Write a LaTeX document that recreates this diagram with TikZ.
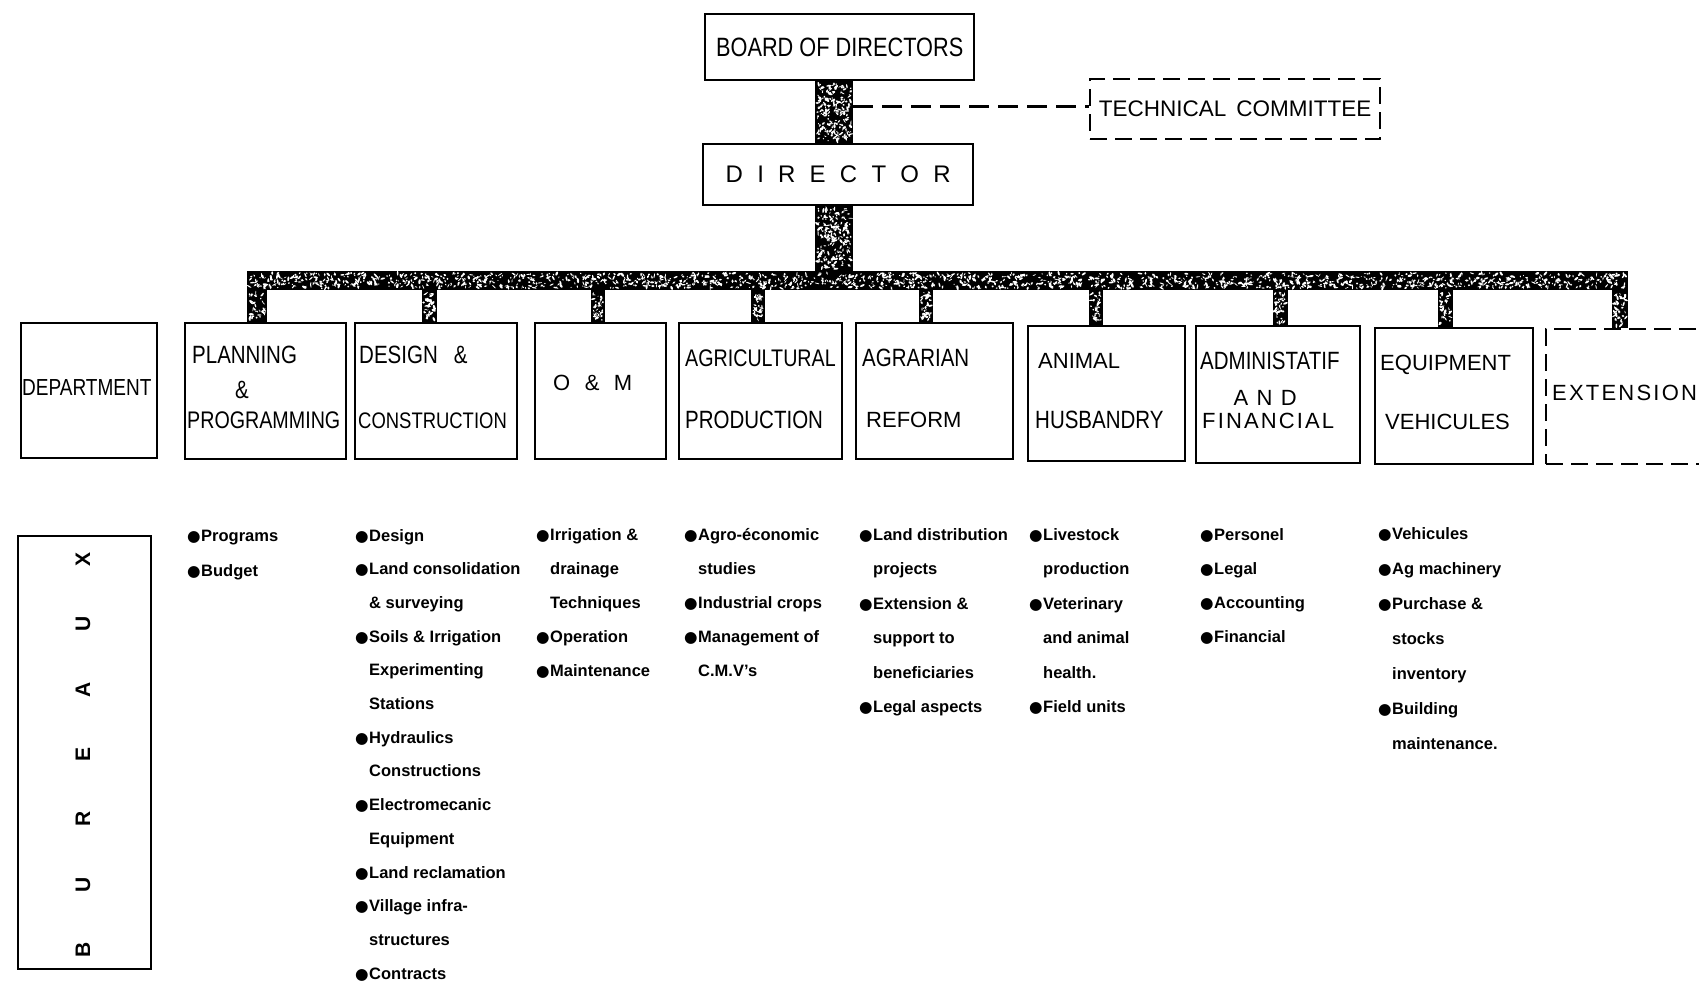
\documentclass[tikz,border=0pt]{standalone}
\usepackage{fontspec}
\setmainfont{Liberation Sans}
\newfontfamily\cond{Liberation Sans}[FakeStretch=0.82]
\newfontfamily\symf{DejaVu Sans}
\usetikzlibrary{calc}

% filled bullet for the bureau lists
\newcommand\bulchar{{\symf\fontsize{15.5}{15.5}\selectfont ●}}

% black bar with white speckles between two corners
\newcommand\barfill[3]{%
  \path #1; \pgfgetlastxy{\bxa}{\bya}%
  \path #2; \pgfgetlastxy{\bxb}{\byb}%
  \fill[black] #1 rectangle #2;
  \foreach \s in {1,...,#3}{%
    \pgfmathsetmacro\sx{min(\bxa,\bxb)+2+(abs(\bxb-\bxa)-4)*rnd}%
    \pgfmathsetmacro\sy{min(\bya,\byb)+2+(abs(\byb-\bya)-4)*rnd}%
    \pgfmathsetmacro\sa{180*rnd}%
    \pgfmathsetmacro\rx{0.6+2.0*rnd}%
    \pgfmathsetmacro\ry{0.4+0.8*rnd}%
    \fill[white, rotate around={\sa:(\sx pt,\sy pt)}] (\sx pt,\sy pt) ellipse [x radius=\rx pt, y radius=\ry pt];
  }}

% one column of bulleted entries: name, x, first baseline, line step, entries
\newcommand\bcol[5]{%
  \foreach \k/\t [count=\i from 0] in {#5}{%
    \node[item] (#1-\i) at (#2,{#3+#4*\i}) {\makebox[14pt][l]{\ifnum\k=1 \bulchar\fi}\t};
  }}

\begin{document}
\begin{tikzpicture}[x=1pt,y=-1pt,
  box/.style={draw, line width=2.4pt, inner sep=0pt, anchor=north west},
  dbox/.style={box, dash pattern=on 17pt off 8pt},
  lbl/.style={anchor=base west, inner sep=0pt, font=\cond\fontsize{25}{25}\selectfont},
  wlbl/.style={anchor=base west, inner sep=0pt, font=\fontsize{22}{22}\selectfont},
  item/.style={anchor=base west, inner sep=0pt, font=\bfseries\fontsize{16.5}{18}\selectfont},
  dashline/.style={line width=3pt, dash pattern=on 20pt off 9pt}]

\fill[white] (0,0) rectangle (1699,982);
\useasboundingbox (0,0) rectangle (1699,982);
\clip (0,0) rectangle (1699,982);
\pgfmathsetseed{7}

% top of the hierarchy
\node[box, minimum width=269pt, minimum height=66pt, font=\cond\fontsize{26.5}{26.5}\selectfont] (board) at (704,13) {BOARD OF DIRECTORS};
\node[box, minimum width=270pt, minimum height=61pt, font=\fontsize{24}{24}\selectfont] (director) at (702,143)
  {\makebox[225pt]{D\hfill I\hfill R\hfill E\hfill C\hfill T\hfill O\hfill R}};
\node[dbox, minimum width=290pt, minimum height=60pt, font=\fontsize{22.5}{22.5}\selectfont] (tech) at (1089,78)
  {TECHNICAL\hspace{10pt}COMMITTEE};

% horizontal distribution bar
\node[inner sep=0pt, minimum width=1381pt, minimum height=19pt, anchor=north west] (bus) at (247,271) {};

% department boxes
\node[box, minimum width=136pt, minimum height=135pt] (dept) at (20,322) {};
\node[box, minimum width=161pt, minimum height=136pt] (plan) at (184,322) {};
\node[box, minimum width=162pt, minimum height=136pt] (design) at (354,322) {};
\node[box, minimum width=131pt, minimum height=136pt] (om) at (534,322) {};
\node[box, minimum width=163pt, minimum height=136pt] (agri) at (678,322) {};
\node[box, minimum width=157pt, minimum height=136pt] (agrar) at (855,322) {};
\node[box, minimum width=157pt, minimum height=135pt] (animal) at (1027,325) {};
\node[box, minimum width=164pt, minimum height=137pt] (admin) at (1195,325) {};
\node[box, minimum width=158pt, minimum height=136pt] (equip) at (1374,327) {};
\node[dbox, minimum width=220pt, minimum height=135pt] (ext) at (1545,328) {};
\node[box, minimum width=133pt, minimum height=433pt] (bureaux) at (17,535) {};

% trunk and bars
\coordinate (tkL) at (815,0);
\coordinate (tkR) at (853,0);
\barfill{(bus.north west)}{(bus.south east)}{1700}
\barfill{(tkL |- board.south)}{(tkR |- director.north)}{200}
\barfill{(tkL |- director.south)}{(tkR |- bus.north)}{210}
\foreach \n/\x/\w in {plan/257/20, design/429/15, om/598/14, agri/758/14, agrar/926/14,
                      animal/1096/14, admin/1280/15, equip/1445/15, ext/1620/16}{
  \coordinate (dl) at ({\x-\w/2},0);
  \coordinate (dr) at ({\x+\w/2},0);
  \barfill{(dl |- bus.south)}{(dr |- \n.north)}{40}
}

% advisory link
\coordinate (tlink) at ([yshift=3pt]tech.west);
\draw[dashline] (tkR |- tlink) -- (tlink);

% department titles
\node[lbl, font=\cond\fontsize{23.2}{23.2}\selectfont] (dept-t) at (22,395) {DEPARTMENT};
\node[lbl] (plan-t1) at (192,363) {PLANNING};
\node[lbl] (plan-t2) at (235,398) {\&};
\node[lbl, font=\cond\fontsize{24}{24}\selectfont] (plan-t3) at (187,428) {PROGRAMMING};
\node[lbl] (design-t1) at (359,363) {DESIGN\hspace{16pt}\&};
\node[lbl, font=\cond\fontsize{22.5}{22.5}\selectfont] (design-t2) at (358,428) {CONSTRUCTION};
\node[wlbl] (om-t) at (553,390) {\makebox[79pt]{O\hfill\&\hfill M}};
\node[lbl, font=\cond\fontsize{24}{24}\selectfont] (agri-t1) at (685,366) {AGRICULTURAL};
\node[lbl] (agri-t2) at (685,428) {PRODUCTION};
\node[lbl] (agrar-t1) at (862,366) {AGRARIAN};
\node[wlbl] (agrar-t2) at (866,427) {REFORM};
\node[wlbl] (animal-t1) at (1038,368) {ANIMAL};
\node[lbl] (animal-t2) at (1035,428) {HUSBANDRY};
\node[lbl] (admin-t1) at (1200,369.5) {ADMINISTATIF};
\node[wlbl] (admin-t2) at (1233.5,405) {\makebox[63pt]{A\hfill N\hfill D}};
\node[wlbl] (admin-t3) at (1202,428) {\makebox[132pt]{F\hfill I\hfill N\hfill A\hfill N\hfill C\hfill I\hfill A\hfill L}};
\node[wlbl] (equip-t1) at (1380,370.5) {EQUIPMENT};
\node[wlbl] (equip-t2) at (1385,429) {VEHICULES};
\node[wlbl] (ext-t) at (1552,400) {\addfontfeature{LetterSpace=10}EXTENSION};

% vertical BUREAUX label
\node[rotate=90, inner sep=0pt, font=\bfseries\fontsize{21}{21}\selectfont] (bureaux-t) at (83,755)
  {\makebox[405pt]{B\hfill U\hfill R\hfill E\hfill A\hfill U\hfill X}};

% bureau lists
\bcol{c1}{187}{541}{35.8}{1/Programs, 1/Budget}
\bcol{c2}{355}{541}{33.7}{1/Design, 1/Land consolidation, 0/\& surveying, 1/Soils \& Irrigation,
  0/Experimenting, 0/Stations, 1/Hydraulics, 0/Constructions, 1/Electromecanic, 0/Equipment,
  1/Land reclamation, 1/Village infra-, 0/structures, 1/Contracts}
\bcol{c3}{536}{540}{34.1}{1/Irrigation \&, 0/drainage, 0/Techniques, 1/Operation, 1/Maintenance}
\bcol{c4}{684}{540}{34.1}{1/Agro-économic, 0/studies, 1/Industrial crops, 1/Management of, 0/C.M.V's}
\bcol{c5}{859}{540}{34.5}{1/Land distribution, 0/projects, 1/Extension \&, 0/support to,
  0/beneficiaries, 1/Legal aspects}
\bcol{c6}{1029}{540}{34.5}{1/Livestock, 0/production, 1/Veterinary, 0/and animal, 0/health., 1/Field units}
\bcol{c7}{1200}{540}{34.3}{1/Personel, 1/Legal, 1/Accounting, 1/Financial}
\bcol{c8}{1378}{539}{35.0}{1/Vehicules, 1/Ag machinery, 1/Purchase \&, 0/stocks, 0/inventory,
  1/Building, 0/maintenance.}
\end{tikzpicture}
\end{document}
